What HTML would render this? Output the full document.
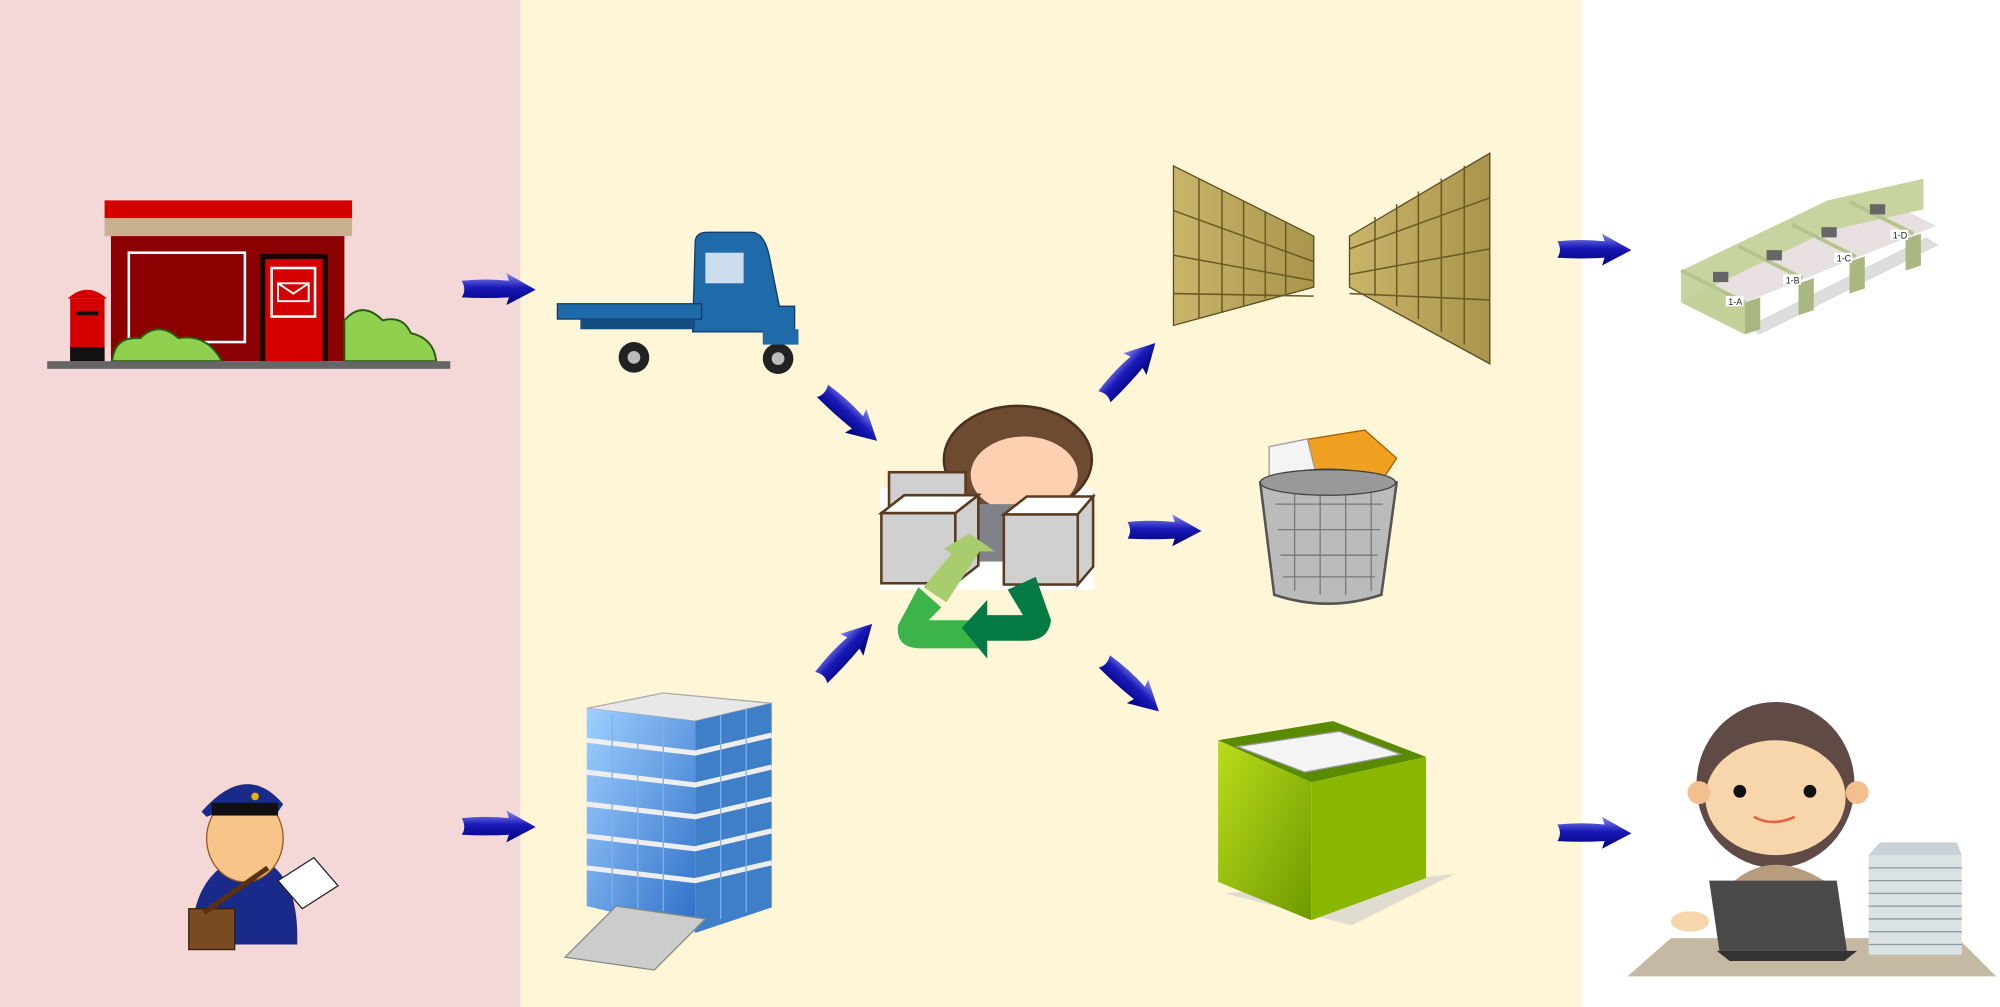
<!DOCTYPE html>
<html><head><meta charset="utf-8"><style>html,body{margin:0;padding:0;background:#fff}svg{display:block}</style></head>
<body>
<svg width="2000" height="1007" viewBox="0 0 1568 789" preserveAspectRatio="none" xmlns="http://www.w3.org/2000/svg" font-family="Liberation Sans, sans-serif">
<defs>
<linearGradient id="ag" x1="0" y1="0" x2="0" y2="1"><stop offset="0" stop-color="#8a8cf0"/><stop offset="0.45" stop-color="#1a1ab8"/><stop offset="1" stop-color="#00007a"/></linearGradient>
<path id="arr" d="M-29,-7 Q-10,-9 8,-7 L6,-13 L29,0 L6,12 L8,6 Q-10,7 -29,6 Q-25,0 -29,-7 Z" fill="url(#ag)"/>
<linearGradient id="box" x1="0" y1="0" x2="1" y2="1"><stop offset="0" stop-color="#b9dc1a"/><stop offset="1" stop-color="#6e9a00"/></linearGradient>
<linearGradient id="cab" x1="0" y1="0" x2="1" y2="0"><stop offset="0" stop-color="#c8b56a"/><stop offset="1" stop-color="#a8944a"/></linearGradient>
<linearGradient id="bld" x1="0" y1="0" x2="1" y2="1"><stop offset="0" stop-color="#9fd0ff"/><stop offset="1" stop-color="#2f6fc8"/></linearGradient>
</defs>
<rect x="0" y="0" width="408" height="789" fill="#f4d7d7"/>
<rect x="408" y="0" width="832" height="789" fill="#fff5d7"/>

<!-- post office -->
<rect x="82" y="157" width="194" height="14" fill="#d40000"/>
<rect x="82" y="171" width="194" height="14" fill="#c9b08f"/>
<rect x="87" y="185" width="183" height="98" fill="#8b0000"/>
<rect x="101" y="198" width="91" height="70" fill="none" stroke="#fff" stroke-width="2"/>
<rect x="204" y="199" width="53" height="84" fill="#1a0000"/>
<rect x="208" y="203" width="45" height="80" fill="#d40000"/>
<rect x="213" y="210" width="34" height="38" fill="none" stroke="#fff" stroke-width="2"/>
<path d="M218,222 h24 v14 h-24z M218,222 l12,8 l12,-8" fill="none" stroke="#fff" stroke-width="1.5"/>
<rect x="55" y="234" width="27" height="49" fill="#d40000"/>
<path d="M53,234 q15,-14 31,0z" fill="#d40000"/>
<rect x="55" y="272" width="27" height="11" fill="#111"/>
<rect x="60" y="244" width="17" height="3" fill="#111"/>
<path d="M88,283 q2,-20 22,-18 q14,-14 30,0 q22,-4 34,18z" fill="#8fd14f" stroke="#2a5a10" stroke-width="1.5"/>
<path d="M270,283 l0,-32 q14,-16 30,0 q16,-4 22,10 q18,4 20,22z" fill="#8fd14f" stroke="#2a5a10" stroke-width="1.5"/>
<rect x="37" y="283" width="316" height="6" fill="#666"/>

<!-- postman -->
<path d="M150,740 q0,-60 45,-70 q40,8 38,70z" fill="#1a2a8a"/>
<ellipse cx="192" cy="657" rx="30" ry="34" fill="#f7c58a" stroke="#8a5a20" stroke-width="1"/>
<path d="M158,636 q35,-40 64,-6 l-4,6 q-28,-8 -56,4z" fill="#1a2a8a"/>
<rect x="166" y="629" width="52" height="10" fill="#111"/>
<circle cx="200" cy="624" r="3" fill="#e8b400"/>
<rect x="148" y="712" width="36" height="32" fill="#7a4a20" stroke="#3a2010"/>
<path d="M160,715 L210,680" stroke="#5a3010" stroke-width="4"/>
<path d="M218,690 l28,-18 l19,22 l-28,18z" fill="#fff" stroke="#222"/>

<!-- truck -->
<path d="M545,190 q0,-8 10,-8 h34 q10,0 14,18 l8,40 h12 v20 h-80z" fill="#1f6aa8" stroke="#0e3a6a"/>
<rect x="553" y="198" width="30" height="24" fill="#cde"/>
<rect x="437" y="238" width="113" height="12" fill="#1f6aa8" stroke="#0e3a6a"/>
<rect x="455" y="250" width="90" height="8" fill="#144e80"/>
<circle cx="497" cy="280" r="12" fill="#222"/><circle cx="497" cy="280" r="5" fill="#bbb"/>
<circle cx="610" cy="281" r="12" fill="#222"/><circle cx="610" cy="281" r="5" fill="#bbb"/>
<rect x="598" y="258" width="28" height="12" fill="#1f6aa8"/>

<!-- building -->
<path d="M460,555 l60,-12 l85,8 l-60,14z" fill="#e8e8e8" stroke="#aaa"/>
<path d="M460,555 l85,10 v165 l-85,-20z" fill="url(#bld)"/>
<path d="M545,565 l60,-14 v160 l-60,20z" fill="#3f7fc8"/>
<g stroke="#eee" stroke-width="4" fill="none">
<path d="M460,580 l85,10 l60,-14"/><path d="M460,605 l85,10 l60,-14"/><path d="M460,630 l85,10 l60,-14"/><path d="M460,655 l85,10 l60,-14"/><path d="M460,680 l85,10 l60,-14"/></g>
<g stroke="#7fb0e8" stroke-width="1" fill="none"><path d="M480,560 v150 M500,562 v150 M520,564 v150 M565,560 v160 M585,555 v160"/></g>
<path d="M443,750 l40,-40 l70,10 l-40,40z" fill="#ccc" stroke="#888"/>

<!-- worried woman -->
<rect x="690" y="382" width="168" height="80" fill="#fff"/>
<ellipse cx="798" cy="360" rx="58" ry="42" fill="#6e4a30" stroke="#4a3020" stroke-width="2"/>
<ellipse cx="803" cy="372" rx="42" ry="30" fill="#fcd0b0"/>
<rect x="760" y="395" width="40" height="45" fill="#7f8288"/>
<g fill="#d0d0d0" stroke="#5a3a20" stroke-width="2">
<rect x="697" y="370" width="60" height="45"/>
<rect x="691" y="402" width="58" height="55"/><path d="M691,402 l18,-14 h58 l-18,14z" fill="#fff"/><path d="M749,402 l18,-14 v55 l-18,14z"/>
<rect x="787" y="403" width="58" height="55"/><path d="M787,403 l18,-14 h52 l-12,14z" fill="#fff"/><path d="M845,403 l12,-14 v55 l-12,14z"/>
</g>
<!-- recycle -->
<path d="M760,418 l20,14 l-12,0 l-26,40 l-18,-12 l22,-26 l-6,-4z" fill="#a8cd6e"/>
<path d="M704,490 l16,-30 l18,16 l-10,10 h44 v22 h-50 q-20,0 -18,-18z" fill="#3cb44a"/>
<path d="M790,462 l22,-10 l12,34 q-2,16 -20,16 h-30 v14 l-20,-24 l20,-22 v12 h28z" fill="#067a45"/>

<!-- filing cabinets -->
<path d="M920,130 l110,55 v40 l-110,30z" fill="url(#cab)" stroke="#5a4a20"/>
<path d="M1168,120 l-110,65 v40 l110,60z" fill="url(#cab)" stroke="#5a4a20"/>
<g stroke="#6a5a25" stroke-width="1.2" fill="none">
<path d="M940,140 v110 M958,149 v96 M975,158 v82 M992,166 v68 M1008,174 v56"/>
<path d="M1148,130 v140 M1130,140 v120 M1112,150 v100 M1095,160 v80 M1078,170 v62"/>
<path d="M920,165 l110,40 M920,200 l110,20 M920,230 l110,2 M1168,155 l-110,40 M1168,195 l-110,20 M1168,235 l-110,-5"/>
</g>

<!-- trash -->
<path d="M1020,345 l50,-8 l25,22 l-20,30 l-70,-10z" fill="#f0a020" stroke="#a06000"/>
<path d="M995,350 l30,-6 l10,40 l-40,-4z" fill="#f4f4f4" stroke="#999"/>
<path d="M988,378 q53,-20 107,0 l-12,88 q-42,14 -84,0z" fill="#bbb" stroke="#555" stroke-width="2"/>
<g stroke="#777" stroke-width="1"><path d="M1000,395 h84 M1002,415 h80 M1004,435 h76 M1006,452 h72 M1015,385 v78 M1035,382 v84 M1055,382 v84 M1075,385 v78"/></g>
<ellipse cx="1041" cy="378" rx="53" ry="10" fill="#999" stroke="#444"/>

<!-- green box -->
<path d="M960,700 l100,25 l80,-40 z" fill="#ccc" opacity="0.6"/>
<path d="M955,580 l90,-15 l73,28 l-90,20z" fill="#5a8a00"/>
<path d="M970,585 l80,-12 l48,18 l-75,14z" fill="#f4f4f4" stroke="#999"/>
<path d="M955,580 l73,33 v108 l-73,-30z" fill="url(#box)"/>
<path d="M1028,613 l90,-20 v95 l-90,33z" fill="#8ab800"/>

<!-- cubicles -->
<path d="M1380,262 l140,-70 l-10,-6 l-140,70z" fill="#ddd"/>
<path d="M1318,212 l50,25 l150,-60 l-50,-25z" fill="#e8e0e0"/>
<path d="M1318,212 v25 l50,25 v-25z" fill="#c3d09a"/>
<path d="M1318,212 l115,-55 l75,-17 v24 l-75,17 l-115,55z" fill="#c8d4a0"/>
<path d="M1368,237 v25 l12,-4 v-25z M1410,222 v25 l12,-4 v-25z M1450,205 v25 l12,-4 v-25z M1494,187 v25 l12,-4 v-25z" fill="#a8b880"/>
<path d="M1318,212 l50,25 M1363,193 l50,25 M1405,176 l50,25 M1450,158 l50,25" stroke="#b5c48c" stroke-width="3"/>
<g font-size="7" fill="#222"><rect x="1353" y="232" width="14" height="8" fill="#fff"/><text x="1355" y="239">1-A</text>
<rect x="1398" y="215" width="14" height="8" fill="#fff"/><text x="1400" y="222">1-B</text>
<rect x="1438" y="198" width="14" height="8" fill="#fff"/><text x="1440" y="205">1-C</text>
<rect x="1482" y="180" width="14" height="8" fill="#fff"/><text x="1484" y="187">1-D</text></g>
<g fill="#666"><rect x="1343" y="213" width="12" height="8"/><rect x="1385" y="196" width="12" height="8"/><rect x="1428" y="178" width="12" height="8"/><rect x="1466" y="160" width="12" height="8"/></g>

<!-- woman at desk -->
<path d="M1276,765 l34,-30 h225 l30,30z" fill="#c5b9a3"/>
<ellipse cx="1392" cy="615" rx="62" ry="65" fill="#604a45"/>
<ellipse cx="1392" cy="625" rx="55" ry="45" fill="#f8d6ab"/>
<circle cx="1332" cy="621" r="9" fill="#f4bf8f"/><circle cx="1456" cy="621" r="9" fill="#f4bf8f"/>
<circle cx="1364" cy="620" r="5" fill="#111"/><circle cx="1419" cy="620" r="5" fill="#111"/>
<path d="M1375,640 q15,8 32,0" stroke="#e86040" stroke-width="2" fill="none"/>
<path d="M1360,690 q30,-25 70,0 l6,40 h-80z" fill="#b89c80"/>
<path d="M1340,690 h100 l8,55 h-100z" fill="#4a4a4a"/>
<path d="M1346,745 h110 l-10,8 h-90z" fill="#333"/>
<ellipse cx="1325" cy="722" rx="15" ry="8" fill="#f8d6ab"/>
<rect x="1465" y="670" width="73" height="78" fill="#dbe2e4"/>
<g stroke="#8a9aa2" stroke-width="1"><path d="M1465,680 h73 M1465,690 h73 M1465,700 h73 M1465,710 h73 M1465,720 h73 M1465,730 h73 M1465,740 h73"/></g>
<path d="M1474,660 h60 l4,10 h-73z" fill="#c8d2d6"/>

<!-- arrows -->
<use href="#arr" transform="translate(391,227)"/>
<use href="#arr" transform="translate(391,648)"/>
<use href="#arr" transform="translate(1250,196)"/>
<use href="#arr" transform="translate(1250,653)"/>
<use href="#arr" transform="translate(913,416)"/>
<use href="#arr" transform="translate(666,326) rotate(42)"/>
<use href="#arr" transform="translate(664,510) rotate(-47)"/>
<use href="#arr" transform="translate(886,290) rotate(-47)"/>
<use href="#arr" transform="translate(887,538) rotate(42)"/>
</svg>
</body></html>
